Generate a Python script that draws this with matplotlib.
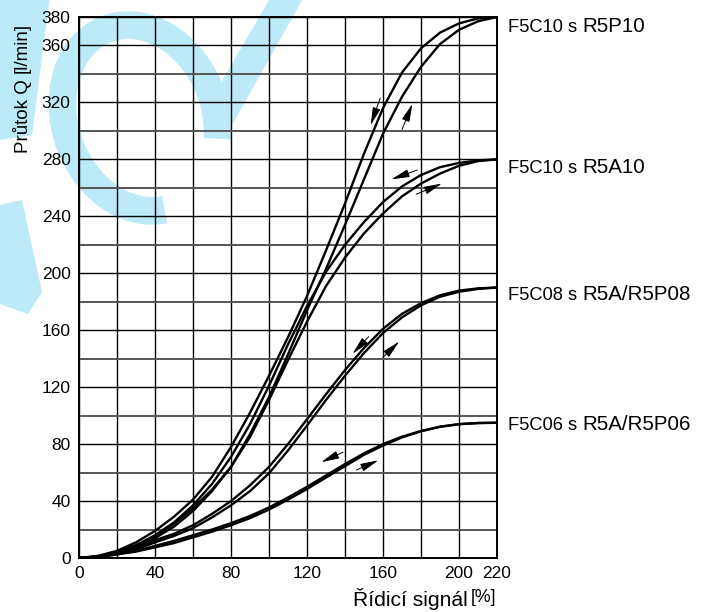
import matplotlib
matplotlib.use("Agg")
import matplotlib.pyplot as plt
import matplotlib.transforms as mtransforms
from matplotlib.patches import Polygon, Arc

plt.rcParams['font.family'] = ['Liberation Sans', 'DejaVu Sans']

# ---- data ----
signal = [0, 10, 20, 30, 40, 50, 60, 70, 80, 90, 100, 110, 120, 130, 140,
          150, 160, 170, 180, 190, 200, 210, 220]

r5p10_down = [0, 1.5, 5, 11, 19, 29, 41, 57, 78, 102, 128, 155, 184, 216, 249,
              284, 316, 341, 358, 369, 375.5, 379, 380]
r5p10_up = [0, 1, 4, 9, 15, 24, 35, 48, 64, 87, 113, 143, 174, 203, 234,
            266, 298, 324, 345, 361, 371, 377, 380]
r5a10_down = [0, 1, 4, 9, 16, 25, 37, 52, 71, 94, 121, 150, 177, 201, 220,
              236, 250, 261, 269, 274.5, 277.5, 279.3, 280]
r5a10_up = [0, 1, 3, 8, 14, 22, 33, 47, 64, 85, 111, 139, 166, 191, 211,
            228, 242, 254, 263, 270, 275.5, 278.8, 280]
r08_down = [0, 1, 3, 7, 12.5, 17, 23, 31, 40, 51, 64, 80, 97.5, 115, 132,
            147.5, 161, 171.5, 179, 184.5, 187.8, 189.4, 190]
r08_up = [0, 0.8, 2.5, 6, 11, 15.5, 21, 28.5, 37, 47, 59.5, 75.5, 93, 111, 128,
          144, 158, 169, 177.5, 183.5, 187, 189, 190]
r06_down = [0, 1, 3, 5, 8.5, 12, 16, 20, 24.5, 29.5, 35.5, 42.5, 50, 58, 66,
            73.5, 80, 85.2, 89.2, 92.2, 94, 94.8, 95]
r06_up = [0, 0.8, 2.5, 4.5, 7.5, 10.5, 14.5, 18.5, 23, 28, 34, 41, 48.5, 56.5, 64.5,
          72.5, 79, 84.7, 89, 92.2, 94, 94.8, 95]

curve_names = ["F5C10 s ", "F5C10 s ", "F5C08 s ", "F5C06 s "]
valve_names = ["R5P10", "R5A10", "R5A/R5P08", "R5A/R5P06"]
label_y = [369.8, 270.2, 181.0, 90.0]   # baselines

# arrows: (tail_x, tail_y, head_x, head_y)
arrows = [
    (158.5, 323, 153.5, 304),   # R5P10 down
    (170.0, 301, 175.5, 319),   # R5P10 up
    (178.0, 272.5, 164.5, 266),   # R5A10 down
    (177.5, 255.5, 191.0, 263),   # R5A10 up
    (152.5, 155.5, 144.0, 143.5),  # 08 down
    (160.0, 141.0, 168.5, 152.0),  # 08 up
    (139.0, 74.3, 127.5, 67.3),    # 06 down
    (146.0, 61.8, 157.5, 68.6),    # 06 up
]

x_ticks = [0, 40, 80, 120, 160, 200, 220]
x_minor = [20, 60, 100, 140, 180]
y_ticks = [0, 40, 80, 120, 160, 200, 240, 280, 320, 360, 380]
y_minor = [20, 60, 100, 140, 180, 220, 260, 300, 340]

W, H = 702, 612
fig = plt.figure(figsize=(W / 100, H / 100), dpi=100)

# ---- light cyan watermark behind the chart (pixel coords, origin top-left) ----
wm = '#BDEAF8'
pix = mtransforms.Affine2D().scale(1, -1).translate(0, H)
fig.patches.append(Arc((140, 118), 150, 190, angle=-20, theta1=95, theta2=395,
                       color=wm, lw=20, transform=pix, zorder=-5))
fig.patches.append(Polygon([(205, 110), (232, 125), (305, -5), (272, -5)],
                           closed=True, fc=wm, ec='none', transform=pix, zorder=-5))
fig.patches.append(Polygon([(0, -5), (50, -5), (32, 135), (0, 140)],
                           closed=True, fc=wm, ec='none', transform=pix, zorder=-5))
fig.patches.append(Polygon([(0, 205), (22, 200), (42, 292), (28, 314), (0, 304)],
                           closed=True, fc=wm, ec='none', transform=pix, zorder=-5))

ax = fig.add_axes([79 / W, 54 / H, 418 / W, 541 / H])
ax.patch.set_alpha(0)

ax.set_xlim(0, 220)
ax.set_ylim(0, 380)
ax.set_xticks(x_ticks)
ax.set_xticks(x_minor, minor=True)
ax.set_yticks(y_ticks)
ax.set_yticks(y_minor, minor=True)
ax.set_xticklabels([str(v) for v in x_ticks])
ax.set_yticklabels([str(v) for v in y_ticks])
ax.tick_params(which='both', length=0)
ax.tick_params(axis='x', pad=6, labelsize=12.5)
ax.tick_params(axis='y', pad=6, labelsize=12.5)

ax.grid(which='both', axis='x', color='black', lw=1.0)
ax.grid(which='major', axis='y', color='black', lw=1.0)
ax.grid(which='minor', axis='y', color='#555555', lw=1.4)
ax.set_axisbelow(True)
for s in ax.spines.values():
    s.set_linewidth(1.4)
    s.set_color('black')

for ys in (r5p10_down, r5p10_up, r5a10_down, r5a10_up, r08_down, r08_up, r06_down, r06_up):
    ax.plot(signal, ys, color='black', lw=1.7, solid_capstyle='round',
            solid_joinstyle='round', zorder=3)

for tx, ty, hx, hy in arrows:
    ax.annotate('', xy=(hx, hy), xytext=(tx, ty),
                arrowprops=dict(arrowstyle='-|>,head_length=1.0,head_width=0.22',
                                color='black', lw=0.7, shrinkA=0, shrinkB=0,
                                mutation_scale=11),
                zorder=4)

renderer = fig.canvas.get_renderer()
trans = mtransforms.blended_transform_factory(ax.transAxes, ax.transData)
for name, valve, yy in zip(curve_names, valve_names, label_y):
    t1 = ax.text(1.026, yy, name, transform=trans, ha='left', va='baseline',
                 fontsize=13.2, clip_on=False)
    wpts = t1.get_window_extent(renderer).width * 72.0 / fig.dpi
    ax.text(1.026, yy, valve, ha='left', va='baseline', fontsize=14.8, clip_on=False,
            transform=mtransforms.offset_copy(trans, fig=fig, x=wpts, y=0, units='points'))

# axis titles
fig.text(22 / W, 1 - 153 / H, "Průtok Q", rotation=90, ha='center', va='bottom', fontsize=13.5)
fig.text(22 / W, 1 - 73 / H, "[l/min]", rotation=90, ha='center', va='bottom', fontsize=13.5)
fig.text(468 / W, 1 - 599 / H, "Řídicí signál", ha='right', va='center', fontsize=15.2)
fig.text(471 / W, 1 - 598 / H, "[%]", ha='left', va='center', fontsize=12.8)

fig.savefig("out.png", dpi=100)
